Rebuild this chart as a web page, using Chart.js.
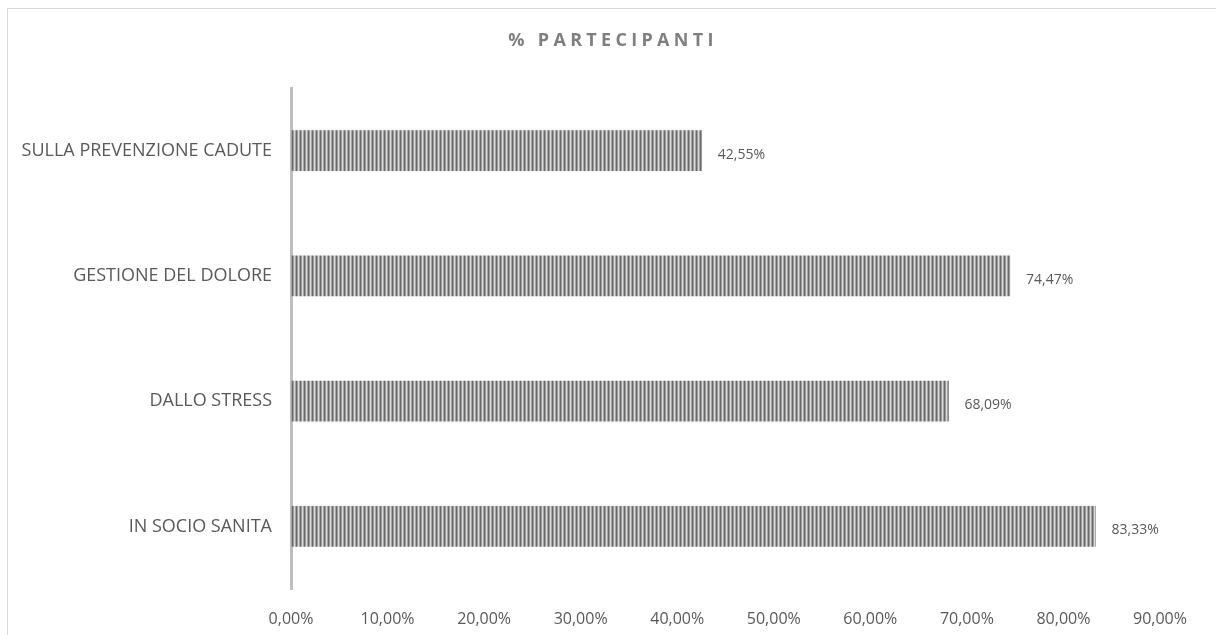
<!DOCTYPE html>
<html>
<head>
<meta charset="utf-8">
<script src="https://cdn.jsdelivr.net/npm/chart.js@4.4.1/dist/chart.umd.min.js"></script>
<style>
  body { margin: 0; background: #fff; }
  #wrap { position: relative; width: 1216px; height: 635px; }
  #frame { position: absolute; left: 7px; top: 8px; right: -2px; bottom: -2px;
           border-left: 1px solid #d9d9d9; border-top: 1px solid #d9d9d9; }
  canvas { position: absolute; left: 0; top: 0; }
</style>
</head>
<body>
<div id="wrap">
  <div id="frame"></div>
  <canvas id="myChart" width="1216" height="635"></canvas>
</div>
<script>
const categories = ["SULLA PREVENZIONE CADUTE", "GESTIONE DEL DOLORE", "DALLO STRESS", "IN SOCIO SANITA"];
const partecipanti = [42.55, 74.47, 68.09, 83.33];
const xTicks = [0, 10, 20, 30, 40, 50, 60, 70, 80, 90];

const fmt = (v) => v.toFixed(2).replace(".", ",") + "%";

const ctx = document.getElementById("myChart").getContext("2d");

// vertical striped fill for the bars
const tile = document.createElement("canvas");
tile.width = 4;
tile.height = 4;
const tctx = tile.getContext("2d");
const stripeCols = ["#6a6a6a", "#9c9c9c", "#dadada", "#a4a4a4"];
stripeCols.forEach((c, i) => {
  tctx.fillStyle = c;
  tctx.fillRect(i, 0, 1, 4);
});
const stripes = ctx.createPattern(tile, "repeat");

// title with wide letter spacing
const titlePlugin = {
  id: "spacedTitle",
  afterDraw(chart) {
    const c = chart.ctx;
    c.save();
    c.font = "bold 18px 'Open Sans', sans-serif";
    c.fillStyle = "#7f7f7f";
    c.letterSpacing = "4.3px";
    c.textAlign = "center";
    c.textBaseline = "middle";
    c.fillText("% PARTECIPANTI", 613, 41);
    c.restore();
  }
};

// value labels at the end of each bar
const valueLabels = {
  id: "valueLabels",
  afterDatasetsDraw(chart) {
    const c = chart.ctx;
    const meta = chart.getDatasetMeta(0);
    c.save();
    c.font = "14px 'Open Sans', sans-serif";
    c.fillStyle = "#595959";
    c.textAlign = "left";
    c.textBaseline = "middle";
    meta.data.forEach((bar, i) => {
      c.fillText(fmt(partecipanti[i]), bar.x + 16, bar.y + 4);
    });
    c.restore();
  }
};

const data = {
  labels: categories,
  datasets: [
    {
      data: partecipanti,
      backgroundColor: stripes,
      borderWidth: 0,
      barThickness: 40
    }
  ]
};

const config = {
  type: "bar",
  data: data,
  plugins: [titlePlugin, valueLabels],
  options: {
    indexAxis: "y",
    responsive: false,
    animation: false,
    layout: {
      padding: { left: 0, top: 88, right: 56, bottom: 0 }
    },
    plugins: {
      legend: { display: false },
      title: { display: false },
      tooltip: { enabled: false }
    },
    scales: {
      x: {
        min: 0,
        max: 90,
        afterBuildTicks: (scale) => {
          scale.ticks = xTicks.map((v) => ({ value: v }));
        },
        afterFit: (scale) => {
          scale.height = 46;
        },
        grid: { display: false },
        border: { display: false },
        ticks: {
          padding: 13,
          color: "#595959",
          font: { family: "'Open Sans', sans-serif", size: 16 },
          callback: (value) => fmt(value)
        }
      },
      y: {
        afterFit: (scale) => {
          scale.width = 291;
        },
        grid: { display: false },
        border: { display: true, color: "#bfbfbf", width: 3 },
        ticks: {
          padding: 11,
          color: "#595959",
          font: { family: "'Open Sans', sans-serif", size: 18 }
        }
      }
    }
  }
};

const myChart = new Chart(ctx, config);
</script>
</body>
</html>
